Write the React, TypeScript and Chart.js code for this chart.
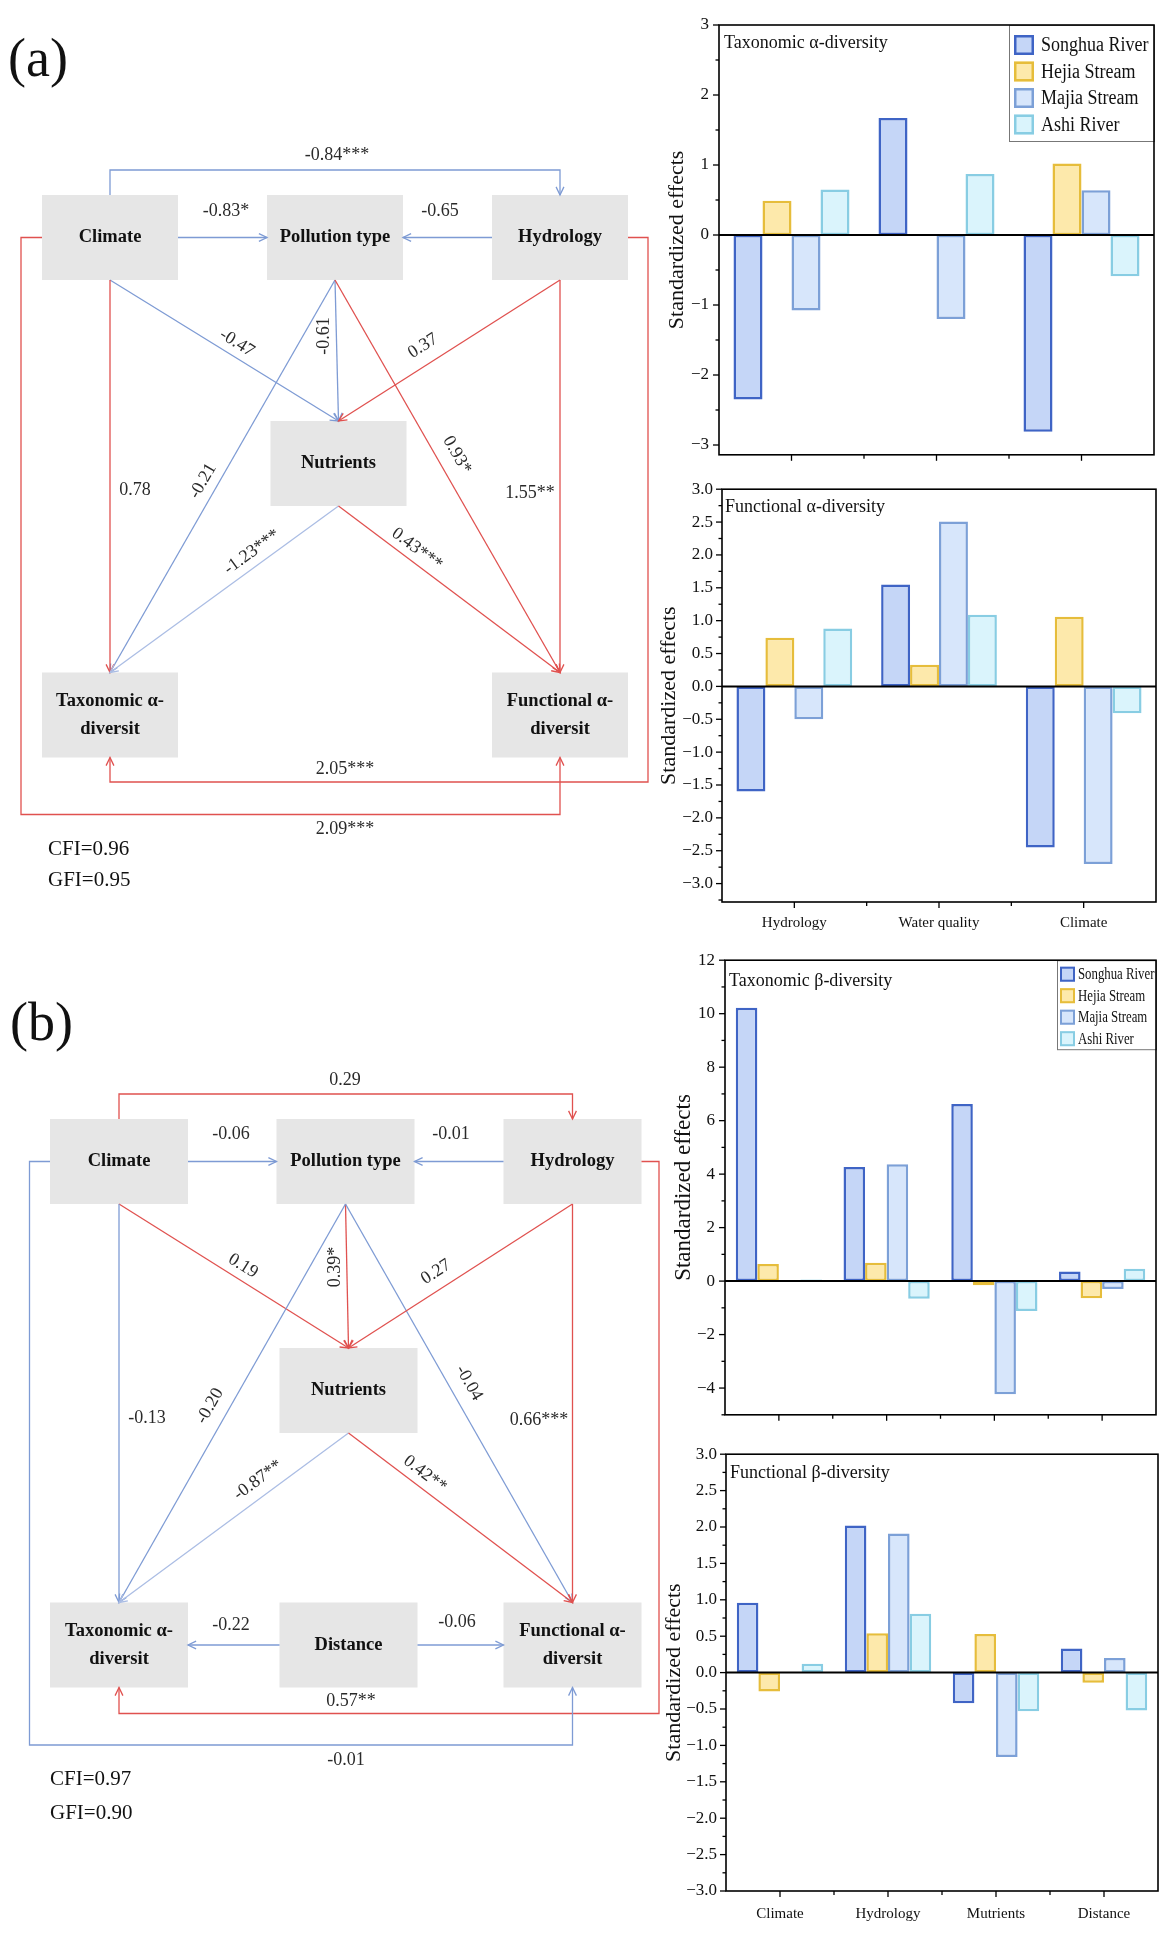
import React, { useEffect, useRef } from 'react';
import { Chart, registerables } from 'chart.js';

Chart.register(...registerables);

const SERIF = '"Liberation Serif", "Times New Roman", serif';

// ---------------- Bar chart data ----------------
const riverNames = ['Songhua River', 'Hejia Stream', 'Majia Stream', 'Ashi River'];
const riverFill = ['#c5d6f7', '#fde9ab', '#d7e6fb', '#daf4fc'];
const riverBorder = ['#3f64c5', '#e6bd3b', '#7ca0d7', '#88cde3'];

const alphaFactors = ['Hydrology', 'Water quality', 'Climate'];
const betaFactors = ['Climate', 'Hydrology', 'Mutrients', 'Distance'];

// Taxonomic alpha-diversity
const taxAlphaSonghua = [-2.35, 1.67, -2.81];
const taxAlphaHejia = [0.49, null, 1.02];
const taxAlphaMajia = [-1.08, -1.2, 0.64];
const taxAlphaAshi = [0.65, 0.87, -0.59];

// Functional alpha-diversity
const funAlphaSonghua = [-1.6, 1.55, -2.45];
const funAlphaHejia = [0.74, 0.33, 1.06];
const funAlphaMajia = [-0.5, 2.51, -2.7];
const funAlphaAshi = [0.88, 1.09, -0.41];

// Taxonomic beta-diversity
const taxBetaSonghua = [10.22, 4.27, 6.62, 0.36];
const taxBetaHejia = [0.64, 0.69, -0.16, -0.64];
const taxBetaMajia = [null, 4.37, -4.23, -0.3];
const taxBetaAshi = [0.06, -0.66, -1.12, 0.46];

// Functional beta-diversity
const funBetaSonghua = [0.96, 2.02, -0.42, 0.33];
const funBetaHejia = [-0.26, 0.54, 0.53, -0.14];
const funBetaMajia = [null, 1.91, -1.16, 0.2];
const funBetaAshi = [0.12, 0.81, -0.53, -0.52];

// Tick labels
const taxAlphaTicks = [3, 2, 1, 0, -1, -2, -3];
const funAlphaTicks = [3, 2.5, 2, 1.5, 1, 0.5, 0, -0.5, -1, -1.5, -2, -2.5, -3];
const taxBetaTicks = [12, 10, 8, 6, 4, 2, 0, -2, -4];
const funBetaTicks = [3, 2.5, 2, 1.5, 1, 0.5, 0, -0.5, -1, -1.5, -2, -2.5, -3];

// ---------------- SEM diagram data ----------------
const semANodes = [
  { id: 'climate', lines: ['Climate'] },
  { id: 'pollution', lines: ['Pollution type'] },
  { id: 'hydrology', lines: ['Hydrology'] },
  { id: 'nutrients', lines: ['Nutrients'] },
  { id: 'taxonomic', lines: ['Taxonomic α-', 'diversit'] },
  { id: 'functional', lines: ['Functional α-', 'diversit'] },
];
const semAPaths: [string, string, string][] = [
  ['climate', 'hydrology', '-0.84***'],
  ['climate', 'pollution', '-0.83*'],
  ['hydrology', 'pollution', '-0.65'],
  ['climate', 'nutrients', '-0.47'],
  ['pollution', 'nutrients', '-0.61'],
  ['pollution', 'taxonomic', '-0.21'],
  ['pollution', 'functional', '0.93*'],
  ['hydrology', 'nutrients', '0.37'],
  ['hydrology', 'functional', '1.55**'],
  ['climate', 'taxonomic', '0.78'],
  ['nutrients', 'taxonomic', '-1.23***'],
  ['nutrients', 'functional', '0.43***'],
  ['climate', 'functional', '2.09***'],
  ['hydrology', 'taxonomic', '2.05***'],
];
const semAFit = ['CFI=0.96', 'GFI=0.95'];

const semBNodes = [
  { id: 'climate', lines: ['Climate'] },
  { id: 'pollution', lines: ['Pollution type'] },
  { id: 'hydrology', lines: ['Hydrology'] },
  { id: 'nutrients', lines: ['Nutrients'] },
  { id: 'taxonomic', lines: ['Taxonomic α-', 'diversit'] },
  { id: 'distance', lines: ['Distance'] },
  { id: 'functional', lines: ['Functional α-', 'diversit'] },
];
const semBPaths: [string, string, string][] = [
  ['climate', 'hydrology', '0.29'],
  ['climate', 'pollution', '-0.06'],
  ['hydrology', 'pollution', '-0.01'],
  ['climate', 'nutrients', '0.19'],
  ['pollution', 'nutrients', '0.39*'],
  ['pollution', 'taxonomic', '-0.20'],
  ['pollution', 'functional', '-0.04'],
  ['hydrology', 'nutrients', '0.27'],
  ['hydrology', 'functional', '0.66***'],
  ['climate', 'taxonomic', '-0.13'],
  ['nutrients', 'taxonomic', '-0.87**'],
  ['nutrients', 'functional', '0.42**'],
  ['distance', 'taxonomic', '-0.22'],
  ['distance', 'functional', '-0.06'],
  ['hydrology', 'taxonomic', '0.57**'],
  ['climate', 'functional', '-0.01'],
];
const semBFit = ['CFI=0.97', 'GFI=0.90'];

// ---------------- Diagram layouts (positions only) ----------------
const semALayout = {
  tag: '(a)', tagPos: [8, 62],
  fitPos: [48, 849, 880],
  hw: 68, hh: 42.5,
  centers: {
    climate: [110, 237.5], pollution: [335, 237.5], hydrology: [560, 237.5],
    nutrients: [338.5, 463.5], taxonomic: [110, 715], functional: [560, 715],
  } as Record<string, number[]>,
  edges: [
    { route: 'over', y: 170, lab: [337, 155], mode: 'h' },
    { lab: [226, 211], mode: 'h' },
    { lab: [440, 211], mode: 'h' },
    { lab: [237, 343], mode: 'along' },
    { lab: [324, 336], mode: 'v' },
    { lab: [203, 481], mode: 'along' },
    { lab: [457, 455], mode: 'along' },
    { lab: [423, 346], mode: 'along' },
    { lab: [530, 493], mode: 'h' },
    { lab: [135, 490], mode: 'h' },
    { lab: [252, 552], mode: 'along', light: true },
    { lab: [417, 549], mode: 'along' },
    { route: 'loopL', x: 21, y: 814.5, lab: [345, 829], mode: 'h' },
    { route: 'loopR', x: 648, y: 782, lab: [345, 769], mode: 'h' },
  ] as any[],
};

const semBLayout = {
  tag: '(b)', tagPos: [10, 86],
  fitPos: [50, 839, 873],
  hw: 69, hh: 42.5,
  centers: {
    climate: [119, 221.5], pollution: [345.5, 221.5], hydrology: [572.5, 221.5],
    nutrients: [348.5, 450.5], taxonomic: [119, 705], distance: [348.5, 705], functional: [572.5, 705],
  } as Record<string, number[]>,
  edges: [
    { route: 'over', y: 154, lab: [345, 140], mode: 'h' },
    { lab: [231, 194], mode: 'h' },
    { lab: [451, 194], mode: 'h' },
    { lab: [243, 326], mode: 'along' },
    { lab: [335, 327], mode: 'v' },
    { lab: [210, 466], mode: 'along' },
    { lab: [469, 443], mode: 'along' },
    { lab: [436, 332], mode: 'along' },
    { lab: [539, 480], mode: 'h' },
    { lab: [147, 478], mode: 'h' },
    { lab: [258, 540], mode: 'along', light: true },
    { lab: [425, 534], mode: 'along' },
    { lab: [231, 685], mode: 'h' },
    { lab: [457, 682], mode: 'h' },
    { route: 'loopR', x: 659, y: 773.5, lab: [351, 761], mode: 'h' },
    { route: 'loopL', x: 29.5, y: 805, lab: [346, 820], mode: 'h' },
  ] as any[],
};

// ---------------- Plugins ----------------
const panelDecor = {
  id: 'panelDecor',
  afterDatasetsDraw(chart: any, _args: any, o: any) {
    const { ctx, chartArea: a } = chart;
    const xs = chart.scales.x;
    const ys = chart.scales.y;
    const line = (x1: number, y1: number, x2: number, y2: number) => {
      ctx.beginPath(); ctx.moveTo(x1, y1); ctx.lineTo(x2, y2); ctx.stroke();
    };
    ctx.save();
    // inner title
    ctx.fillStyle = '#111';
    ctx.font = `18px ${SERIF}`;
    ctx.textAlign = 'left';
    ctx.textBaseline = 'middle';
    ctx.fillText(o.title, a.left + o.titleDx, a.top + o.titleDy);
    // legend
    const L = o.legend;
    if (L) {
      const bx = a.right - L.w;
      const by = a.top;
      ctx.fillStyle = '#fff';
      ctx.fillRect(bx, by, L.w, L.h);
      ctx.strokeStyle = '#777';
      ctx.lineWidth = 1;
      ctx.strokeRect(bx + 0.5, by + 0.5, L.w, L.h);
      chart.data.datasets.forEach((ds: any, i: number) => {
        const cy = by + L.row0 + i * L.step;
        ctx.fillStyle = ds.backgroundColor;
        ctx.fillRect(bx + L.swX, cy - L.sw / 2, L.sw, L.sw);
        ctx.strokeStyle = ds.borderColor;
        ctx.lineWidth = L.bw;
        ctx.strokeRect(bx + L.swX + L.bw / 2, cy - L.sw / 2 + L.bw / 2, L.sw - L.bw, L.sw - L.bw);
        ctx.save();
        ctx.translate(bx + L.textX, cy + 1);
        ctx.scale(L.sx, 1);
        ctx.fillStyle = '#111';
        ctx.font = `${L.font}px ${SERIF}`;
        ctx.textAlign = 'left';
        ctx.textBaseline = 'middle';
        ctx.fillText(ds.label, 0, 0);
        ctx.restore();
      });
    }
    ctx.strokeStyle = '#000';
    // zero line
    const z = ys.getPixelForValue(0);
    ctx.lineWidth = 2;
    line(a.left, z, a.right, z);
    // frame
    ctx.lineWidth = 1.6;
    ctx.strokeRect(a.left, a.top, a.right - a.left, a.bottom - a.top);
    // y ticks
    ctx.lineWidth = 1.3;
    const majors: number[] = o.ticks;
    const step = Math.abs(majors[0] - majors[1]);
    const half = step / 2;
    const start = Math.ceil(o.min / half - 1e-9) * half;
    for (let v = start; v <= o.max + 1e-9; v += half) {
      const isMajor = majors.some((m) => Math.abs(m - v) < 1e-6);
      const py = ys.getPixelForValue(v);
      line(a.left - (isMajor ? 6 : 3.5), py, a.left, py);
    }
    // x ticks
    const n = chart.data.labels.length;
    for (let i = 0; i < n; i++) {
      const px = xs.getPixelForValue(i);
      line(px, a.bottom, px, a.bottom + 6);
      if (i > 0) {
        const mx = (px + xs.getPixelForValue(i - 1)) / 2;
        line(mx, a.bottom, mx, a.bottom + 4);
      }
    }
    ctx.restore();
  },
};

function edgePoints(L: any, from: string, to: string, g: any): number[][] {
  const [fx, fy] = L.centers[from];
  const [tx, ty] = L.centers[to];
  const hw = L.hw, hh = L.hh;
  if (g.route === 'over') return [[fx, fy - hh], [fx, g.y], [tx, g.y], [tx, ty - hh]];
  if (g.route === 'loopL') return [[fx - hw, fy], [g.x, fy], [g.x, g.y], [tx, g.y], [tx, ty + hh]];
  if (g.route === 'loopR') return [[fx + hw, fy], [g.x, fy], [g.x, g.y], [tx, g.y], [tx, ty + hh]];
  if (Math.abs(fy - ty) < 1) {
    return tx > fx ? [[fx + hw, fy], [tx - hw, ty]] : [[fx - hw, fy], [tx + hw, ty]];
  }
  return [[fx, fy + hh], [tx, ty - hh]];
}

const semDraw = {
  id: 'semDraw',
  afterDraw(chart: any, _args: any, o: any) {
    const { ctx } = chart;
    const sx = (v: number) => chart.scales.x.getPixelForValue(v);
    const sy = (v: number) => chart.scales.y.getPixelForValue(v);
    const L = o.layout;
    ctx.save();
    // panel tag
    ctx.fillStyle = '#111';
    ctx.font = `54px ${SERIF}`;
    ctx.textAlign = 'left';
    ctx.textBaseline = 'middle';
    ctx.fillText(L.tag, sx(L.tagPos[0]), sy(L.tagPos[1]));
    // boxes
    o.nodes.forEach((nd: any) => {
      const [cx, cy] = L.centers[nd.id];
      const x0 = sx(cx - L.hw), x1 = sx(cx + L.hw);
      const y0 = sy(cy - L.hh), y1 = sy(cy + L.hh);
      ctx.fillStyle = '#e6e6e6';
      ctx.fillRect(x0, y0, x1 - x0, y1 - y0);
      ctx.fillStyle = '#111';
      ctx.font = `bold 18.5px ${SERIF}`;
      ctx.textAlign = 'center';
      ctx.textBaseline = 'middle';
      const k0 = (nd.lines.length - 1) / 2;
      nd.lines.forEach((t: string, k: number) => {
        ctx.fillText(t, sx(cx), sy(cy + (k - k0) * 28));
      });
    });
    // edges
    o.paths.forEach((p: [string, string, string], i: number) => {
      const g = L.edges[i];
      const neg = p[2].trim().startsWith('-');
      const color = neg ? (g.light ? '#abbde4' : '#7e9bd4') : '#e0514f';
      const pts = edgePoints(L, p[0], p[1], g).map(([x, y]) => [sx(x), sy(y)]);
      ctx.strokeStyle = color;
      ctx.lineWidth = 1.3;
      ctx.beginPath();
      pts.forEach(([x, y], k) => (k === 0 ? ctx.moveTo(x, y) : ctx.lineTo(x, y)));
      ctx.stroke();
      // open arrowhead
      const [ax, ay] = pts[pts.length - 1];
      const [bx, by] = pts[pts.length - 2];
      const ang = Math.atan2(ay - by, ax - bx);
      const len = 9, spread = 0.45;
      ctx.beginPath();
      ctx.moveTo(ax - len * Math.cos(ang - spread), ay - len * Math.sin(ang - spread));
      ctx.lineTo(ax, ay);
      ctx.lineTo(ax - len * Math.cos(ang + spread), ay - len * Math.sin(ang + spread));
      ctx.stroke();
      // label
      let rot = 0;
      if (g.mode === 'v') rot = -Math.PI / 2;
      if (g.mode === 'along') {
        const [px, py] = pts[0];
        rot = Math.atan2(ay - py, ax - px);
        if (rot > Math.PI / 2) rot -= Math.PI;
        if (rot < -Math.PI / 2) rot += Math.PI;
      }
      ctx.save();
      ctx.translate(sx(g.lab[0]), sy(g.lab[1]));
      ctx.rotate(rot);
      ctx.fillStyle = '#2a2a2a';
      ctx.font = `18px ${SERIF}`;
      ctx.textAlign = 'center';
      ctx.textBaseline = 'middle';
      ctx.fillText(p[2], 0, 0);
      ctx.restore();
    });
    // fit indices
    ctx.fillStyle = '#111';
    ctx.font = `21px ${SERIF}`;
    ctx.textAlign = 'left';
    ctx.textBaseline = 'middle';
    ctx.fillText(o.fit[0], sx(L.fitPos[0]), sy(L.fitPos[1]));
    ctx.fillText(o.fit[1], sx(L.fitPos[0]), sy(L.fitPos[2]));
    ctx.restore();
  },
};

// ---------------- Components ----------------
const DIAG_W = 700;
const DIAG_H = 940;

function SemDiagram({ top, nodes, paths, layout, fit }: any) {
  const ref = useRef<HTMLCanvasElement | null>(null);
  useEffect(() => {
    const canvas = ref.current;
    if (!canvas) return;
    const chart = new Chart(canvas, {
      type: 'scatter',
      data: { datasets: [] },
      options: {
        responsive: false,
        animation: false,
        devicePixelRatio: 1,
        layout: { padding: 0 },
        plugins: {
          legend: { display: false },
          tooltip: { enabled: false },
          semDraw: { nodes, paths, layout, fit },
        } as any,
        scales: {
          x: { type: 'linear', min: 0, max: DIAG_W, display: false },
          y: { type: 'linear', min: 0, max: DIAG_H, reverse: true, display: false },
        },
      },
      plugins: [semDraw as any],
    });
    return () => chart.destroy();
  }, []);
  return (
    <canvas
      ref={ref}
      width={DIAG_W}
      height={DIAG_H}
      style={{ position: 'absolute', left: 0, top, width: DIAG_W, height: DIAG_H }}
    />
  );
}

const fmt = (v: number, dec: number) => {
  const s = Math.abs(v) < 1e-9 ? (0).toFixed(dec) : v.toFixed(dec);
  return s.replace('-', '\u2212');
};

function BarPanel({ p }: any) {
  const ref = useRef<HTMLCanvasElement | null>(null);
  useEffect(() => {
    const canvas = ref.current;
    if (!canvas) return;
    const chart = new Chart(canvas, {
      type: 'bar',
      data: {
        labels: p.categories,
        datasets: p.series.map((d: (number | null)[], i: number) => ({
          label: riverNames[i],
          data: d,
          backgroundColor: riverFill[i],
          borderColor: riverBorder[i],
          borderWidth: 2.5,
          borderSkipped: false,
          categoryPercentage: 0.8,
          barPercentage: 1,
        })),
      },
      options: {
        responsive: false,
        animation: false,
        devicePixelRatio: 1,
        layout: { padding: { top: p.padTop, right: p.padRight, left: 0, bottom: 0 } },
        plugins: {
          legend: { display: false },
          tooltip: { enabled: false },
          panelDecor: {
            title: p.title, titleDx: p.titleDx, titleDy: p.titleDy,
            legend: p.legend, ticks: p.ticks, min: p.min, max: p.max,
          },
        } as any,
        scales: {
          x: {
            type: 'category',
            grid: { display: false, drawTicks: false },
            border: { display: false },
            ticks: {
              display: p.showX,
              color: '#111',
              font: { family: SERIF, size: 15 },
              padding: p.xPad,
              maxRotation: 0,
              autoSkip: false,
            },
            afterFit: (s: any) => { s.height = p.xH; },
          },
          y: {
            type: 'linear',
            min: p.min,
            max: p.max,
            grid: { display: false, drawTicks: false },
            border: { display: false },
            afterBuildTicks: (s: any) => { s.ticks = p.ticks.map((v: number) => ({ value: v })); },
            ticks: {
              color: '#111',
              font: { family: SERIF, size: 17 },
              padding: p.yPad,
              callback: (v: any) => fmt(Number(v), p.dec),
            },
            title: {
              display: true,
              text: 'Standardized effects',
              color: '#111',
              font: { family: SERIF, size: p.yTitleSize },
              padding: { top: p.titlePad, bottom: 0 },
            },
            afterFit: (s: any) => { s.width = p.yW; },
          },
        },
      } as any,
      plugins: [panelDecor as any],
    });
    return () => chart.destroy();
  }, [p]);
  return (
    <canvas
      ref={ref}
      width={534}
      height={p.height}
      style={{ position: 'absolute', left: 640, top: p.top, width: 534, height: p.height }}
    />
  );
}

const legendBig = { w: 145, h: 116, sw: 20, swX: 5, textX: 32, row0: 20, step: 26.5, font: 20, sx: 0.9, bw: 2.5 };
const legendSmall = { w: 99, h: 89, sw: 15, swX: 3, textX: 21, row0: 14, step: 21.5, font: 16, sx: 0.8, bw: 2 };

const panels = [
  {
    title: 'Taxonomic α-diversity', categories: alphaFactors,
    series: [taxAlphaSonghua, taxAlphaHejia, taxAlphaMajia, taxAlphaAshi],
    ticks: taxAlphaTicks, min: -3.14, max: 3, dec: 0,
    top: 0, height: 475, padTop: 25, padRight: 20, yW: 79, xH: 13, yPad: 10,
    showX: false, xPad: 12, titlePad: 24, yTitleSize: 22, titleDx: 5, titleDy: 18, legend: legendBig,
  },
  {
    title: 'Functional α-diversity', categories: alphaFactors,
    series: [funAlphaSonghua, funAlphaHejia, funAlphaMajia, funAlphaAshi],
    ticks: funAlphaTicks, min: -3.28, max: 3, dec: 1,
    top: 470, height: 470, padTop: 10, padRight: 18, yW: 82, xH: 38, yPad: 9,
    showX: true, xPad: 12, titlePad: 16, yTitleSize: 22, titleDx: 3, titleDy: 18, legend: null,
  },
  {
    title: 'Taxonomic β-diversity', categories: betaFactors,
    series: [taxBetaSonghua, taxBetaHejia, taxBetaMajia, taxBetaAshi],
    ticks: taxBetaTicks, min: -5, max: 12, dec: 0,
    top: 940, height: 495, padTop: 19, padRight: 18, yW: 85, xH: 7, yPad: 10,
    showX: false, xPad: 12, titlePad: 30, yTitleSize: 23, titleDx: 4, titleDy: 21, legend: legendSmall,
  },
  {
    title: 'Functional β-diversity', categories: betaFactors,
    series: [funBetaSonghua, funBetaHejia, funBetaMajia, funBetaAshi],
    ticks: funBetaTicks, min: -3, max: 3, dec: 1,
    top: 1435, height: 512, padTop: 8, padRight: 16, yW: 86, xH: 56, yPad: 9,
    showX: true, xPad: 14, titlePad: 21, yTitleSize: 22, titleDx: 4, titleDy: 19, legend: null,
  },
];

export default function App() {
  return (
    <div
      style={{
        position: 'absolute', left: 0, top: 0, width: 1174, height: 1947,
        background: '#ffffff', overflow: 'hidden',
      }}
    >
      <SemDiagram top={0} nodes={semANodes} paths={semAPaths} layout={semALayout} fit={semAFit} />
      <SemDiagram top={940} nodes={semBNodes} paths={semBPaths} layout={semBLayout} fit={semBFit} />
      {panels.map((p, i) => (
        <BarPanel key={i} p={p} />
      ))}
    </div>
  );
}
